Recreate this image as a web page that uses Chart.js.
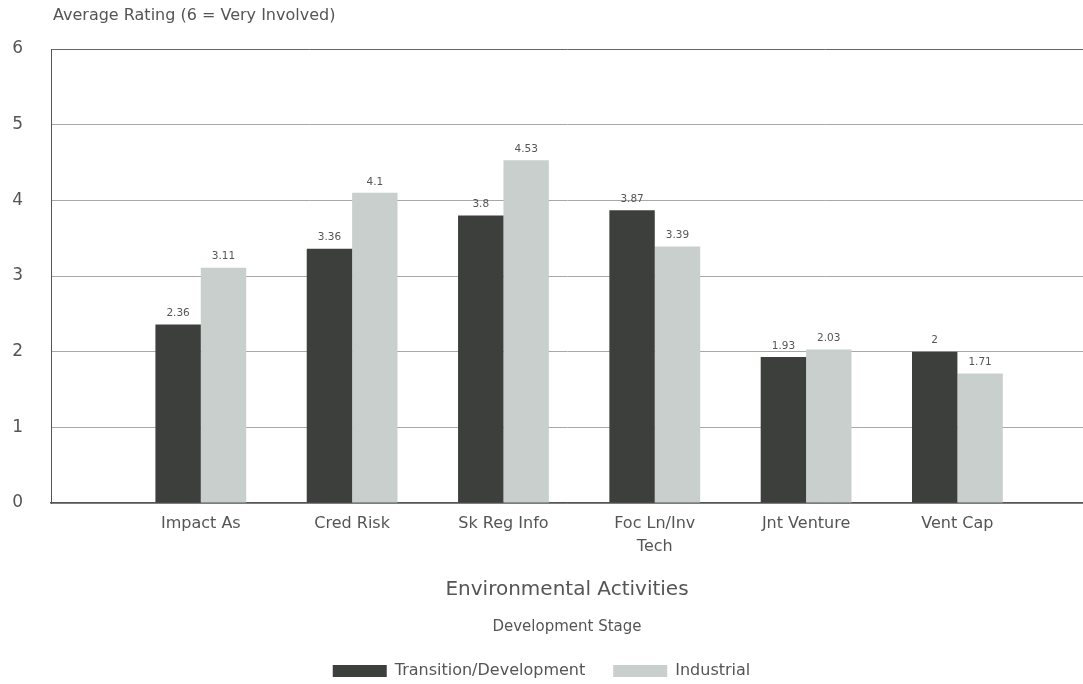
<!DOCTYPE html>
<html>
<head>
<meta charset="utf-8">
<title>Environmental Activities by Development Stage</title>
<script src="https://cdn.jsdelivr.net/npm/chart.js@4.4.1/dist/chart.umd.min.js"></script>
<style>
  html, body { margin: 0; padding: 0; background: #fff; overflow: hidden; }
  #wrap { width: 1083px; height: 684px; }
</style>
</head>
<body>
<div id="wrap"><canvas id="chart" width="1083" height="684"></canvas></div>
<script>
// Activities on the horizontal axis
const categories = ['Impact As', 'Cred Risk', 'Sk Reg Info', ['Foc Ln/Inv', 'Tech'], 'Jnt Venture', 'Vent Cap'];
// Average rating per activity, by development stage
const transitionDev = [2.36, 3.36, 3.8, 3.87, 1.93, 2];
const industrial = [3.11, 4.1, 4.53, 3.39, 2.03, 1.71];
// Rating scale ticks
const yTicks = [0, 1, 2, 3, 4, 5, 6];

const yTitle = 'Average Rating (6 = Very Involved)';
const xTitle = 'Environmental Activities';
const legendTitle = 'Development Stage';

const TEXT = '#555';
Chart.defaults.font.family = "'DejaVu Sans', 'Liberation Sans', sans-serif";
Chart.defaults.color = TEXT;

const toPoints = arr => arr.map((v, i) => ({ x: i + 1, y: v }));

// Numbers printed above each bar
const valueLabels = {
  id: 'valueLabels',
  afterDatasetsDraw(chart) {
    const { ctx } = chart;
    ctx.save();
    ctx.font = "10.5px 'DejaVu Sans', sans-serif";
    ctx.fillStyle = TEXT;
    ctx.textAlign = 'center';
    ctx.textBaseline = 'middle';
    chart.data.datasets.forEach((ds, i) => {
      chart.getDatasetMeta(i).data.forEach((bar, j) => {
        ctx.fillText(String(ds.data[j].y), bar.x, bar.y - 11);
      });
    });
    ctx.restore();
  }
};

// Rating caption above the plot and legend heading
const captions = {
  id: 'captions',
  afterDraw(chart) {
    const { ctx, chartArea } = chart;
    ctx.save();
    ctx.fillStyle = TEXT;
    ctx.textBaseline = 'middle';
    ctx.font = "16px 'DejaVu Sans', sans-serif";
    ctx.textAlign = 'left';
    ctx.fillText(yTitle, chartArea.left + 2, 16);
    ctx.font = "15px 'DejaVu Sans', sans-serif";
    ctx.textAlign = 'center';
    ctx.fillText(legendTitle, (chartArea.left + chartArea.right) / 2, chart.legend.top - 8);
    ctx.restore();
  }
};

new Chart(document.getElementById('chart'), {
  type: 'bar',
  data: {
    datasets: [
      {
        label: 'Transition/Development',
        data: toPoints(transitionDev),
        backgroundColor: '#3d3f3c',
        borderWidth: 0,
        barPercentage: 1,
        categoryPercentage: 0.6
      },
      {
        label: 'Industrial',
        data: toPoints(industrial),
        backgroundColor: '#c8cfcc',
        borderWidth: 0,
        barPercentage: 1,
        categoryPercentage: 0.6
      }
    ]
  },
  options: {
    responsive: false,
    animation: false,
    layout: { padding: { top: 49, left: 0, right: 0, bottom: -5 } },
    scales: {
      x: {
        type: 'linear',
        min: 0.01,
        max: 6.83,
        offset: false,
        grid: { display: false, offset: false, drawTicks: false },
        border: { display: true, color: '#555', width: 1.5 },
        ticks: {
          stepSize: 1,
          includeBounds: false,
          autoSkip: false,
          maxRotation: 0,
          padding: 10,
          color: TEXT,
          font: { size: 16, lineHeight: 1.4 },
          callback: v => (Number.isInteger(v) && v >= 1 && v <= categories.length) ? categories[v - 1] : ''
        },
        title: {
          display: true,
          text: xTitle,
          color: TEXT,
          font: { size: 20 },
          padding: { top: 0, bottom: 33 }
        },
        afterFit(scale) { scale.height = 132; }
      },
      y: {
        min: 0,
        max: 6,
        afterBuildTicks(scale) { scale.ticks = yTicks.map(v => ({ value: v })); },
        grid: {
          color: c => (c.tick && c.tick.value === 6) ? '#666' : '#a8a8a8',
          lineWidth: 1,
          drawTicks: false
        },
        border: { display: true, color: '#555', width: 1 },
        ticks: { padding: 28, color: TEXT, font: { size: 17 } },
        afterFit(scale) { scale.width = 51; }
      }
    },
    plugins: {
      legend: {
        position: 'bottom',
        labels: { boxWidth: 54, boxHeight: 12, padding: 28, color: TEXT, font: { size: 16 } }
      },
      tooltip: { enabled: false }
    }
  },
  plugins: [valueLabels, captions]
});
</script>
</body>
</html>
